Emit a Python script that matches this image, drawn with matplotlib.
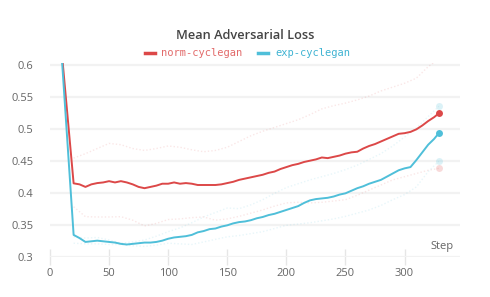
import matplotlib
matplotlib.use("Agg")
import matplotlib.pyplot as plt
from matplotlib.lines import Line2D

title = "Mean Adversarial Loss"
series_names = ["norm-cyclegan", "exp-cyclegan"]

steps_main = [10, 20, 25, 30, 35, 40, 45, 50, 55, 60, 65, 70, 75, 80, 85, 90, 95, 100,
              105, 110, 115, 120, 125, 130, 135, 140, 145, 150, 155, 160, 165, 170, 175,
              180, 185, 190, 195, 200, 205, 210, 215, 220, 225, 230, 235, 240, 245, 250,
              255, 260, 265, 270, 275, 280, 285, 290, 295, 300, 305, 310, 315, 320, 325, 329]

norm_mean = [0.620, 0.4156, 0.414, 0.410, 0.414, 0.416, 0.417, 0.419, 0.417, 0.419, 0.417,
             0.414, 0.410, 0.408, 0.410, 0.412, 0.415, 0.415, 0.417, 0.415, 0.416, 0.415,
             0.413, 0.413, 0.413, 0.413, 0.414, 0.416, 0.418, 0.421, 0.423, 0.425, 0.427,
             0.429, 0.432, 0.434, 0.438, 0.441, 0.444, 0.446, 0.449, 0.451, 0.453, 0.456,
             0.455, 0.457, 0.459, 0.462, 0.464, 0.465, 0.470, 0.474, 0.477, 0.481, 0.485,
             0.489, 0.493, 0.494, 0.496, 0.500, 0.506, 0.513, 0.519, 0.525]

exp_mean = [0.612, 0.335, 0.330, 0.324, 0.325, 0.326, 0.325, 0.324, 0.323, 0.321, 0.320,
            0.321, 0.322, 0.323, 0.323, 0.324, 0.326, 0.329, 0.331, 0.332, 0.333, 0.335,
            0.339, 0.341, 0.344, 0.345, 0.348, 0.350, 0.353, 0.355, 0.356, 0.358, 0.361,
            0.363, 0.366, 0.368, 0.371, 0.374, 0.377, 0.380, 0.385, 0.389, 0.391, 0.392,
            0.393, 0.395, 0.398, 0.400, 0.404, 0.408, 0.411, 0.415, 0.418, 0.421, 0.426,
            0.431, 0.436, 0.439, 0.441, 0.452, 0.464, 0.476, 0.485, 0.494]

steps_env = [20, 30, 40, 50, 60, 70, 80, 90, 100, 110, 120, 130, 140, 150, 160, 170, 180,
             190, 200, 210, 220, 230, 240, 250, 260, 270, 280, 290, 300, 310, 320, 329]

norm_max = [0.455, 0.462, 0.470, 0.478, 0.476, 0.470, 0.467, 0.470, 0.474, 0.472, 0.468,
            0.465, 0.467, 0.472, 0.481, 0.490, 0.497, 0.503, 0.509, 0.515, 0.523, 0.532,
            0.537, 0.541, 0.546, 0.552, 0.560, 0.566, 0.572, 0.580, 0.598, 0.610]
norm_min = [0.379, 0.3635, 0.363, 0.363, 0.3635, 0.358, 0.349, 0.353, 0.359, 0.360, 0.362,
            0.363, 0.358, 0.360, 0.364, 0.369, 0.374, 0.380, 0.385, 0.386, 0.385, 0.386,
            0.388, 0.390, 0.397, 0.405, 0.413, 0.421, 0.426, 0.431, 0.436, 0.439]
exp_max = [0.332, 0.330, 0.331, 0.327, 0.322, 0.324, 0.327, 0.333, 0.340, 0.346, 0.354,
           0.363, 0.370, 0.377, 0.376, 0.382, 0.390, 0.400, 0.409, 0.415, 0.421, 0.426,
           0.431, 0.437, 0.444, 0.453, 0.462, 0.474, 0.488, 0.502, 0.520, 0.536]
exp_min = [0.322, 0.321, 0.321, 0.320, 0.320, 0.318, 0.317, 0.319, 0.322, 0.321, 0.320,
           0.324, 0.328, 0.332, 0.334, 0.337, 0.340, 0.345, 0.350, 0.352, 0.354, 0.357,
           0.360, 0.364, 0.369, 0.374, 0.381, 0.390, 0.398, 0.410, 0.434, 0.450]

x_ticks = [0, 50, 100, 150, 200, 250, 300]
y_ticks = [0.3, 0.35, 0.4, 0.45, 0.5, 0.55, 0.6]
y_tick_labels = ["0.3", "0.35", "0.4", "0.45", "0.5", "0.55", "0.6"]

RED = "#dc4848"
BLUE = "#4fbfd9"
RED_TXT = "#e26a6a"
BLUE_TXT = "#3fb3d2"

fig = plt.figure(figsize=(4.9, 2.97), dpi=100)
ax = fig.add_axes([0.102, 0.1337, 0.837, 0.6527])

for s_max, s_min, c in [(norm_max, norm_min, RED), (exp_max, exp_min, BLUE)]:
    for s in (s_max, s_min):
        ax.plot(steps_env, s, color=c, alpha=0.13, lw=1.0, ls=(0, (1, 1.5)), zorder=1)
        ax.plot(steps_env[-1], s[-1], "o", color=c, alpha=0.2, ms=5, mew=0, zorder=1)

for s, c in [(norm_mean, RED), (exp_mean, BLUE)]:
    ax.plot(steps_main, s, color=c, lw=1.4, zorder=3)
    ax.plot(steps_main[-1], s[-1], "o", color=c, ms=5, mew=0, zorder=4)

ax.set_xlim(0, 347)
ax.set_ylim(0.3, 0.603)
ax.set_xticks(x_ticks)
ax.set_yticks(y_ticks)
ax.set_yticklabels(y_tick_labels)
for sp in ax.spines.values():
    sp.set_visible(False)
ax.grid(axis="y", color="#f2f2f2", lw=1.6, zorder=0)
ax.set_axisbelow(True)
ax.tick_params(axis="y", length=0, pad=12, labelsize=8, labelcolor="#666666")
ax.tick_params(axis="x", direction="inout", length=11, width=1, color="#e6e6e6",
               labelsize=8, labelcolor="#666666", pad=2)
for lab in ax.get_xticklabels() + ax.get_yticklabels():
    lab.set_fontfamily("Open Sans")

ax.text(0.985, 0.025, "Step", transform=ax.transAxes, ha="right", va="bottom",
        fontsize=8, color="#666666", family="Open Sans")

fig.text(0.5, 0.882, title, ha="center", va="center", fontsize=9.2,
         color="#444444", family="Open Sans", fontweight="semibold")

# legend (manual)
fig.add_artist(Line2D([145 / 490, 155 / 490], [1 - 53 / 297] * 2, color=RED, lw=2.5,
                      transform=fig.transFigure))
fig.text(161 / 490, 1 - 53 / 297, series_names[0], ha="left", va="center", fontsize=7.5,
         color=RED_TXT, family="DejaVu Sans Mono")
fig.add_artist(Line2D([258 / 490, 268 / 490], [1 - 53 / 297] * 2, color=BLUE, lw=2.5,
                      transform=fig.transFigure))
fig.text(275 / 490, 1 - 53 / 297, series_names[1], ha="left", va="center", fontsize=7.5,
         color=BLUE_TXT, family="DejaVu Sans Mono")

fig.savefig("out.png", dpi=100, facecolor="white")
